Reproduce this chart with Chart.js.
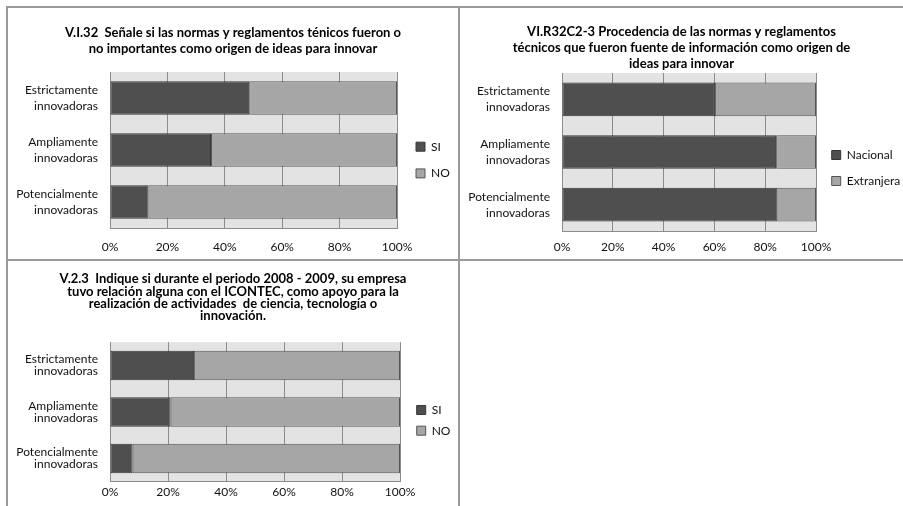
<!DOCTYPE html>
<html><head><meta charset="utf-8">
<script src="https://cdn.jsdelivr.net/npm/chart.js@4.4.0/dist/chart.umd.min.js"></script>
<style>
html,body{margin:0;padding:0;background:#fff;width:903px;height:506px;overflow:hidden;position:relative}
.ln{position:absolute;background:#9a9a9a}
.cv{position:absolute}
</style></head><body>
<div class="ln" style="left:6px;top:6px;width:897px;height:2px"></div>
<div class="ln" style="left:6px;top:6px;width:2px;height:500px"></div>
<div class="ln" style="left:458px;top:6px;width:2px;height:500px"></div>
<div class="ln" style="left:6px;top:259px;width:897px;height:2px"></div>
<div class="cv" style="left:8px;top:8px;width:450px;height:251px"><canvas id="c1"></canvas></div>
<div class="cv" style="left:460px;top:8px;width:443px;height:251px"><canvas id="c2"></canvas></div>
<div class="cv" style="left:8px;top:261px;width:450px;height:245px"><canvas id="c3"></canvas></div>
<script>
const categories = [['Estrictamente','innovadoras'],['Ampliamente','innovadoras'],['Potencialmente','innovadoras']];
const xTicks = ['0%','20%','40%','60%','80%','100%'];

const chart1Title = ['V.I.32  Señale si las normas y reglamentos ténicos fueron o','no importantes como origen de ideas para innovar'];
const chart1Series = ['SI','NO'];
const chart1SI = [48.5, 35.2, 13.4];
const chart1NO = [51.5, 64.8, 86.6];

const chart2Title = ['VI.R32C2-3 Procedencia de las normas y reglamentos','técnicos que fueron fuente de información como origen de','ideas para innovar'];
const chart2Series = ['Nacional','Extranjera'];
const chart2Nacional = [60.2, 84.3, 84.8];
const chart2Extranjera = [39.8, 15.7, 15.2];

const chart3Title = ['V.2.3  Indique si durante el periodo 2008 - 2009, su empresa','tuvo relación alguna con el ICONTEC, como apoyo para la','realización de actividades  de ciencia, tecnología o','innovación.'];
const chart3Series = ['SI','NO'];
const chart3SI = [29.0, 20.9, 7.8];
const chart3NO = [71.0, 79.1, 92.2];

const FONT = 'Lato, "Open Sans", sans-serif';

const plotBg = {id:'plotBg', beforeDraw(chart){const {ctx, chartArea:a}=chart; ctx.save(); ctx.fillStyle='#e3e3e3'; ctx.fillRect(a.left,a.top,a.width,a.height); ctx.restore();}};
const legendPlace = {id:'legendPlace', afterLayout(chart,args,o){
  const lg=chart.legend; if(!lg||o.x==null) return;
  const p=lg.options.labels.padding; const w=lg.width,h=lg.height;
  lg.left=o.x-p; lg.right=lg.left+w; lg.top=o.y-6-p; lg.bottom=lg.top+h;
}};

function makeChart(id, L){
  return new Chart(document.getElementById(id), {
    type:'bar',
    data:{labels:categories, datasets:[
      {label:L.series[0], data:L.a, backgroundColor:'#4f4f4f', borderColor:'#363636', borderWidth:1, borderSkipped:false, categoryPercentage:1, barPercentage:L.bp},
      {label:L.series[1], data:L.b, backgroundColor:'#a6a6a6', borderColor:'#555555', borderWidth:1, borderSkipped:false, categoryPercentage:1, barPercentage:L.bp}
    ]},
    options:{
      indexAxis:'y', responsive:true, maintainAspectRatio:false, animation:false, devicePixelRatio:1,
      layout:{padding:0},
      scales:{
        x:{stacked:true, min:0, max:100,
           ticks:{stepSize:20, padding:L.xPad, color:'#111', maxRotation:0, font:{family:FONT,size:12}, callback:v=>xTicks[Math.round(v/20)]},
           grid:{color:'#8c8c8c', drawTicks:false, lineWidth:1},
           border:{display:true, color:'#8c8c8c'},
           afterFit:s=>{s.height=L.xH;}},
        y:{stacked:true,
           ticks:{padding:12, color:'#111', font:{family:FONT,size:12,lineHeight:L.yLH}},
           grid:{display:false, drawTicks:false},
           border:{display:true, color:'#8c8c8c'},
           afterFit:s=>{s.width=102;}},
        yR:{type:'category', position:'right', display:true,
           ticks:{display:false}, grid:{display:false, drawTicks:false}, border:{display:false},
           afterFit:s=>{s.width=L.rW;}}
      },
      plugins:{
        title:{display:true, text:L.title, color:'#000', font:{family:FONT,size:13,weight:'bold',lineHeight:L.tLH}, padding:{top:L.t1,bottom:L.t2}},
        legend:{position:'chartArea', align:'start', labels:{boxWidth:9, boxHeight:9, padding:L.lp, color:'#111', font:{family:FONT,size:12}}},
        legendPlace:{x:L.lx, y:L.ly},
        tooltip:{enabled:false}
      }
    },
    plugins:[plotBg, legendPlace]
  });
}

makeChart('c1', {series:chart1Series, a:chart1SI, b:chart1NO, title:chart1Title, bp:0.645, xH:31, xPad:12, yLH:16/12, rW:61, t1:17, t2:15, tLH:16/13, lp:14.7, lx:408, ly:138.7});
makeChart('c2', {series:chart2Series, a:chart2Nacional, b:chart2Extranjera, title:chart2Title, bp:0.64, xH:25, xPad:9, yLH:16/12, rW:87, t1:16, t2:1, tLH:16/13, lp:14, lx:371.7, ly:147});
makeChart('c3', {series:chart3Series, a:chart3SI, b:chart3NO, title:chart3Title, bp:0.634, xH:21.7, xPad:3, yLH:12.3/12, rW:58, t1:12, t2:20, tLH:12.3/13, lp:8.7, lx:408.7, ly:149});
</script>
</body></html>
